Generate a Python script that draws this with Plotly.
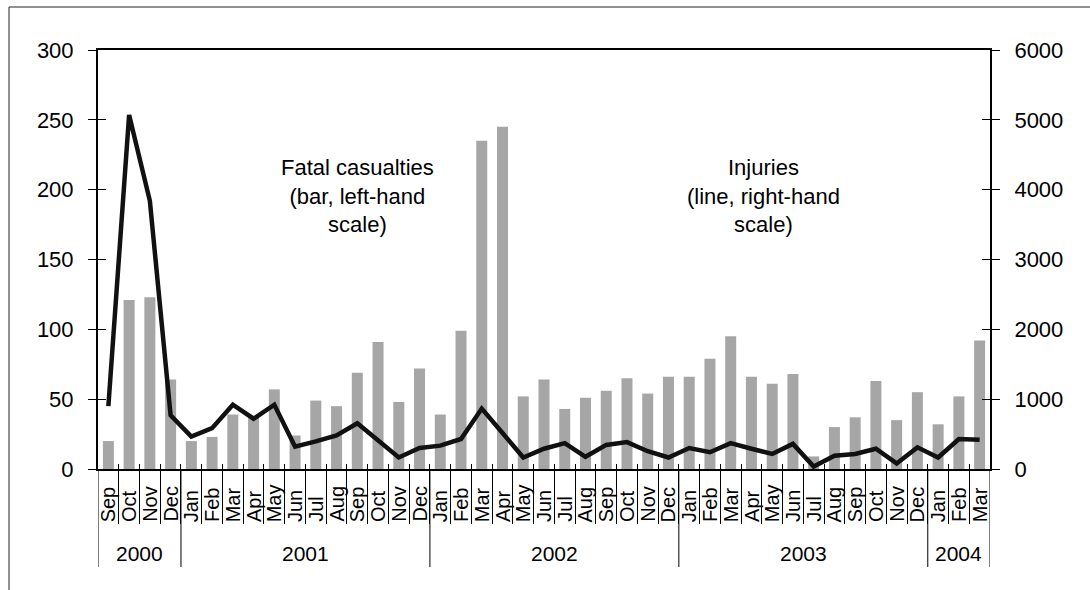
import plotly.graph_objects as go

years = ["2000", "2001", "2002", "2003", "2004"]
months_in_year = [4, 12, 12, 12, 3]
months = ["Sep", "Oct", "Nov", "Dec",
          "Jan", "Feb", "Mar", "Apr", "May", "Jun", "Jul", "Aug", "Sep", "Oct", "Nov", "Dec",
          "Jan", "Feb", "Mar", "Apr", "May", "Jun", "Jul", "Aug", "Sep", "Oct", "Nov", "Dec",
          "Jan", "Feb", "Mar", "Apr", "May", "Jun", "Jul", "Aug", "Sep", "Oct", "Nov", "Dec",
          "Jan", "Feb", "Mar"]
fatal = [20, 121, 123, 64,
         20, 23, 39, 37, 57, 24, 49, 45, 69, 91, 48, 72,
         39, 99, 235, 245, 52, 64, 43, 51, 56, 65, 54, 66,
         66, 79, 95, 66, 61, 68, 9, 30, 37, 63, 35, 55,
         32, 52, 92]
injuries = [900, 5070, 3840, 770,
            465, 585, 920, 720, 920, 320, 395, 480, 655, 410, 165, 300,
            335, 430, 865, 515, 165, 290, 370, 175, 345, 385, 255, 165,
            300, 240, 370, 290, 215, 360, 35, 190, 215, 290, 80, 310,
            165, 430, 420]
left_ticks = [0, 50, 100, 150, 200, 250, 300]
right_ticks = [0, 1000, 2000, 3000, 4000, 5000, 6000]

n = len(months)
xi = list(range(n))
boundaries = [i - 0.5 for i in range(n + 1)]

FONT = "Liberation Sans, Arial, sans-serif"
W, H = 1090, 590
L, R, T, B = 98, 100, 50, 121
pw, ph = W - L - R, H - T - B


def py(y):
    return (H - B - y) / ph


def px(x):
    return (x - L) / pw


fig = go.Figure()
fig.add_trace(go.Bar(x=xi, y=fatal, marker=dict(color="#a6a6a6", line=dict(width=0)),
                     yaxis="y", name="Fatal casualties", hoverinfo="skip"))
fig.add_trace(go.Scatter(x=xi, y=injuries, mode="lines", line=dict(color="#111111", width=4.5),
                         yaxis="y2", name="Injuries", hoverinfo="skip"))
# empty helper traces for extra tick marks
fig.add_trace(go.Scatter(x=[], y=[], xaxis="x2", yaxis="y3", showlegend=False))
fig.add_trace(go.Scatter(x=[], y=[], xaxis="x3", yaxis="y4", showlegend=False))

common_y = dict(showgrid=False, zeroline=False, automargin=False, fixedrange=True)
fig.update_layout(
    width=W, height=H,
    margin=dict(l=L, r=R, t=T, b=B, pad=0),
    paper_bgcolor="white", plot_bgcolor="white",
    showlegend=False,
    bargap=0.47,
    font=dict(family=FONT, size=20, color="black"),
    xaxis=dict(range=[-0.5, n - 0.5], tickvals=xi, showticklabels=False,
               ticks="", showline=True, linecolor="black", linewidth=2, mirror=True,
               showgrid=False, zeroline=False, automargin=False, fixedrange=True),
    xaxis2=dict(overlaying="x", range=[-0.5, n - 0.5], tickvals=boundaries[1:-1],
                ticks="outside", ticklen=54, tickwidth=1, tickcolor="black", showticklabels=False,
                showgrid=False, zeroline=False, showline=False, anchor="y3", automargin=False),
    xaxis3=dict(overlaying="x", range=[-0.5, n - 0.5], tickvals=boundaries[1:-1],
                ticks="inside", ticklen=5, tickwidth=1, tickcolor="black", showticklabels=False,
                showgrid=False, zeroline=False, showline=False, anchor="y4", automargin=False),
    yaxis=dict(range=[0, 300], tickvals=left_ticks, ticks="outside", ticklen=8, tickwidth=1,
               tickcolor="black", showline=True, linecolor="black", linewidth=2,
               tickfont=dict(size=22), ticklabelstandoff=10, **common_y),
    yaxis2=dict(range=[0, 6000], tickvals=right_ticks, overlaying="y", side="right",
                ticks="outside", ticklen=8, tickwidth=1, tickcolor="black",
                showline=True, linecolor="black", linewidth=2,
                tickfont=dict(size=22), ticklabelstandoff=10, **common_y),
    yaxis3=dict(range=[0, 300], tickvals=left_ticks[1:-1], overlaying="y", side="left", anchor="x2",
                ticks="inside", ticklen=8, tickwidth=1, tickcolor="black",
                showticklabels=False, showline=False, **common_y),
    yaxis4=dict(range=[0, 6000], tickvals=right_ticks[1:-1], overlaying="y", side="right", anchor="x3",
                ticks="inside", ticklen=8, tickwidth=1, tickcolor="black",
                showticklabels=False, showline=False, **common_y),
)

# month labels (rotated, aligned at their bottom end)
for i, m in zip(xi, months):
    fig.add_annotation(xref="x", yref="paper", x=i, y=py(523), text=m, textangle=-90,
                       showarrow=False, font=dict(size=20, family=FONT),
                       xanchor="center", yanchor="bottom", borderpad=0)

# year group dividers and labels
start = 0
year_edges = [-0.5]
for y, cnt in zip(years, months_in_year):
    fig.add_annotation(xref="x", yref="paper", x=start + (cnt - 1) / 2, y=py(553),
                       text=y, showarrow=False, font=dict(size=21, family=FONT),
                       xanchor="center", yanchor="middle")
    start += cnt
    year_edges.append(start - 0.5)
for e in year_edges:
    fig.add_shape(type="line", xref="x", yref="paper", x0=e, x1=e, y0=0, y1=py(567),
                  line=dict(color="black", width=1))

fig.add_annotation(xref="paper", yref="paper", x=px(279), y=py(153),
                   text="Fatal casualties<br>(bar, left-hand<br>scale)", showarrow=False,
                   font=dict(size=22, family=FONT), align="center")
fig.add_annotation(xref="paper", yref="paper", x=px(842), y=py(153),
                   text="Injuries<br>(line, right-hand<br>scale)", showarrow=False,
                   font=dict(size=22, family=FONT), align="center")

# outer chart frame (partly outside the window)
fig.add_shape(type="rect", xref="paper", yref="paper",
              x0=px(9), x1=px(1095), y0=py(596), y1=py(7),
              line=dict(color="#222222", width=1), layer="below")

fig.write_html("out.html", config={"displayModeBar": False, "staticPlot": True},
               post_script="document.body.style.margin='0';document.body.style.overflow='hidden';")
